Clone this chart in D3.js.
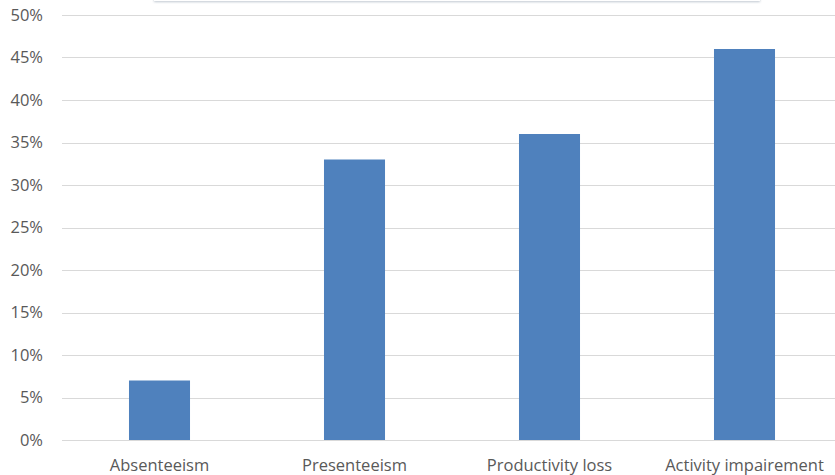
<!DOCTYPE html>
<html>
<head>
<meta charset="utf-8">
<script src="https://cdn.jsdelivr.net/npm/d3@7"></script>
<style>
  html, body { margin: 0; padding: 0; background: #fff; }
  svg { display: block; }
</style>
</head>
<body>
<svg id="chart" width="835" height="475"></svg>
<script>
const categories = ["Absenteeism", "Presenteeism", "Productivity loss", "Activity impairement"];
const values = [0.07, 0.33, 0.36, 0.46];
const yTicks = [0, 0.05, 0.10, 0.15, 0.20, 0.25, 0.30, 0.35, 0.40, 0.45, 0.50];

(function () {
const svg = d3.select("#chart");
const plotLeft = 62, plotRight = 842, plotTop = 15, plotBottom = 440;

const x = d3.scaleBand().domain(categories).range([plotLeft, plotRight]).paddingInner(0.687).paddingOuter(0.3435);
const y = d3.scaleLinear().domain([0, 0.5]).range([plotBottom, plotTop]);

// partial box at the top (cropped frame)
const defs = svg.append("defs");
const f = defs.append("filter").attr("id", "sh").attr("x", "-5%").attr("y", "-50%").attr("width", "110%").attr("height", "300%");
f.append("feDropShadow").attr("dx", 0).attr("dy", 1).attr("stdDeviation", 1.2).attr("flood-color", "#8a9aab").attr("flood-opacity", 0.55);
svg.append("rect").attr("x", 154).attr("y", -30).attr("width", 606).attr("height", 31)
  .attr("fill", "#fff").attr("filter", "url(#sh)");

// gridlines
svg.append("g").selectAll("line").data(yTicks).join("line")
  .attr("x1", plotLeft).attr("x2", 835)
  .attr("y1", d => Math.round(y(d)) + 0.5).attr("y2", d => Math.round(y(d)) + 0.5)
  .attr("stroke", "#d9d9d9").attr("stroke-width", 1);

// y axis labels
const yAxis = d3.axisLeft(y).tickValues(yTicks).tickFormat(d3.format(".0%")).tickSize(0).tickPadding(0);
const ya = svg.append("g").attr("transform", `translate(43,0)`).call(yAxis);
ya.select(".domain").remove();
ya.selectAll("text").attr("font-family", "Open Sans").attr("font-size", 16.5).attr("fill", "#595959");

// bars
svg.append("g").selectAll("rect").data(values).join("rect")
  .attr("x", (d, i) => x(categories[i]))
  .attr("width", x.bandwidth())
  .attr("y", d => y(d))
  .attr("height", d => y(0) - y(d))
  .attr("fill", "#4f81bd");

// x axis labels
const xAxis = d3.axisBottom(x).tickSize(0).tickPadding(0);
const xa = svg.append("g").attr("transform", `translate(0,${plotBottom + 19})`).call(xAxis);
xa.select(".domain").remove();
xa.selectAll("text").attr("font-family", "Open Sans").attr("font-size", 16.5).attr("fill", "#595959");
})();
</script>
</body>
</html>
